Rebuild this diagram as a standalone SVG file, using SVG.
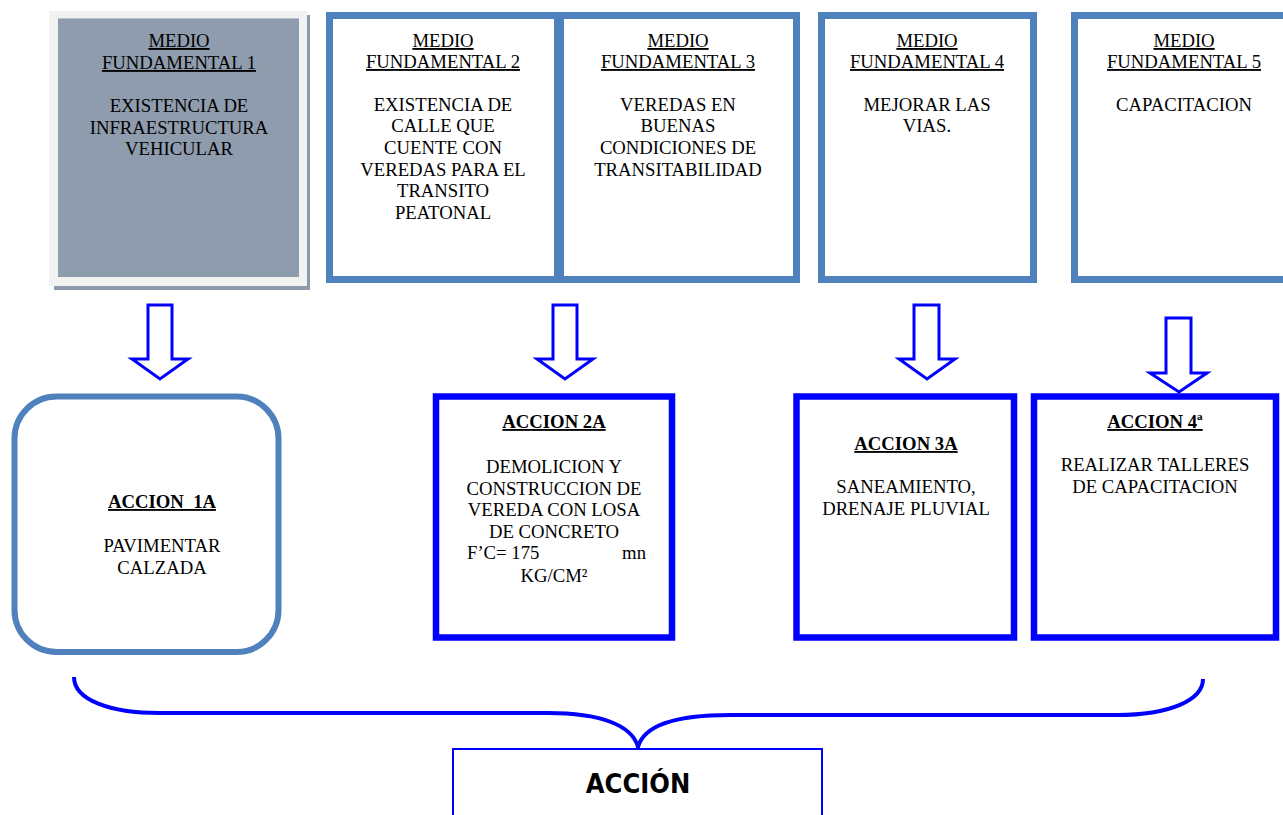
<svg xmlns="http://www.w3.org/2000/svg" width="1283" height="815" viewBox="0 0 1283 815">
<style>
.t{font-family:"Liberation Serif","Times New Roman",serif;font-size:18.7px;fill:#000;text-anchor:middle}
.u{text-decoration:underline}
.b{font-weight:bold}
.mf{fill:#fff;stroke:#4f81bd;stroke-width:7}
.ac{fill:#fff;stroke:#0000ff;stroke-width:6.5}
.ar{fill:#fff;stroke:#0000ff;stroke-width:3}
</style>
<rect width="1283" height="815" fill="#fff"/>
<g id="mf1">
<rect x="54" y="15" width="256" height="275" fill="#8f9bab"/>
<rect x="49" y="11" width="258" height="275" fill="#f2f2f2"/>
<rect x="58" y="18" width="241" height="259" fill="#8f9cad"/>
<line x1="58" y1="18.5" x2="299" y2="18.5" stroke="#b8c2cf" stroke-width="1"/>
<text class="t u" x="179" y="47">MEDIO</text>
<text class="t u" x="179" y="69">FUNDAMENTAL 1</text>
<text class="t" x="179" y="112">EXISTENCIA DE</text>
<text class="t" x="179" y="134">INFRAESTRUCTURA</text>
<text class="t" x="179" y="155">VEHICULAR</text>
</g>
<g id="mf2">
<rect class="mf" x="329.5" y="15.5" width="228" height="264"/>
<text class="t u" x="443" y="47">MEDIO</text>
<text class="t u" x="443" y="68">FUNDAMENTAL 2</text>
<text class="t" x="443" y="111">EXISTENCIA DE</text>
<text class="t" x="443" y="132">CALLE QUE</text>
<text class="t" x="443" y="154">CUENTE CON</text>
<text class="t" x="443" y="176">VEREDAS PARA EL</text>
<text class="t" x="443" y="197">TRANSITO</text>
<text class="t" x="443" y="219">PEATONAL</text>
</g>
<g id="mf3">
<rect class="mf" x="560.5" y="15.5" width="236" height="264"/>
<text class="t u" x="678" y="47">MEDIO</text>
<text class="t u" x="678" y="68">FUNDAMENTAL 3</text>
<text class="t" x="678" y="111">VEREDAS EN</text>
<text class="t" x="678" y="132">BUENAS</text>
<text class="t" x="678" y="154">CONDICIONES DE</text>
<text class="t" x="678" y="176">TRANSITABILIDAD</text>
</g>
<g id="mf4">
<rect class="mf" x="821.5" y="15.5" width="212" height="264"/>
<text class="t u" x="927" y="47">MEDIO</text>
<text class="t u" x="927" y="68">FUNDAMENTAL 4</text>
<text class="t" x="927" y="111">MEJORAR LAS</text>
<text class="t" x="927" y="132">VIAS.</text>
</g>
<g id="mf5">
<rect class="mf" x="1074.5" y="15.5" width="212" height="264"/>
<text class="t u" x="1184" y="47">MEDIO</text>
<text class="t u" x="1184" y="68">FUNDAMENTAL 5</text>
<text class="t" x="1184" y="111">CAPACITACION</text>
</g>
<g id="connectors">
<polygon class="ar" points="148,305 172,305 172,359 188,359 160,379 132,359 148,359"/>
<polygon class="ar" points="553,305 577,305 577,359 593,359 565,379 537,359 553,359"/>
<polygon class="ar" points="914,305 939,305 939,359 955,359 927,379 899,359 914,359"/>
<polygon class="ar" points="1166,318 1191,318 1191,373 1207,373 1179,392 1150,373 1166,373"/>
<path d="M74,677 C74,700 110,713 160,713 L548,713 C600,713 632,725 638,747 C644,725 676,715 730,715 L1117,715 C1170,715 1203,700 1203,679" fill="none" stroke="#0000ff" stroke-width="4"/>
</g>
<g id="a1">
<rect x="14.5" y="396.5" width="264" height="255.5" rx="42" ry="42" fill="#fff" stroke="#4f81bd" stroke-width="6"/>
<text class="t b u" x="162" y="508" xml:space="preserve">ACCION  1A</text>
<text class="t" x="162" y="552">PAVIMENTAR</text>
<text class="t" x="162" y="574">CALZADA</text>
</g>
<g id="a2">
<rect class="ac" x="436" y="396.5" width="236" height="241"/>
<text class="t b u" x="554" y="428">ACCION 2A</text>
<text class="t" x="554" y="473">DEMOLICION Y</text>
<text class="t" x="554" y="495">CONSTRUCCION DE</text>
<text class="t" x="554" y="516">VEREDA CON LOSA</text>
<text class="t" x="554" y="538">DE CONCRETO</text>
<text class="t" x="467" y="559" style="text-anchor:start">F’C= 175</text>
<text class="t" x="646" y="559" style="text-anchor:end">mn</text>
<text class="t" x="554" y="582">KG/CM²</text>
</g>
<g id="a3">
<rect class="ac" x="796.5" y="396.5" width="217.5" height="241"/>
<text class="t b u" x="906" y="450">ACCION 3A</text>
<text class="t" x="906" y="493">SANEAMIENTO,</text>
<text class="t" x="906" y="515">DRENAJE PLUVIAL</text>
</g>
<g id="a4">
<rect class="ac" x="1034" y="396.5" width="242" height="241"/>
<text class="t b u" x="1155" y="428">ACCION 4ª</text>
<text class="t" x="1155" y="471">REALIZAR TALLERES</text>
<text class="t" x="1155" y="493">DE CAPACITACION</text>
</g>
<g id="accion">
<rect x="453" y="749" width="369" height="80" fill="#fff" stroke="#0000ff" stroke-width="2"/>
<text x="638" y="793" style="font-family:'DejaVu Sans Condensed','DejaVu Sans',sans-serif;font-weight:bold;font-size:27px;text-anchor:middle;fill:#000">ACCIÓN</text>
</g>
</svg>
